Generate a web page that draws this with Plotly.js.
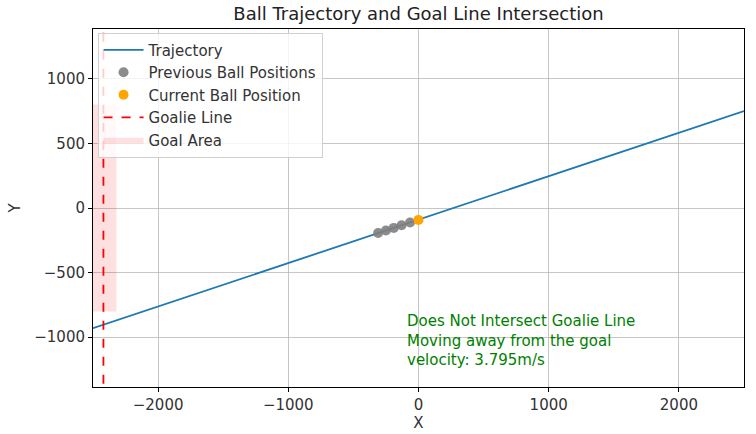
<!DOCTYPE html>
<html>
<head>
<meta charset="utf-8">
<script src="https://cdn.plot.ly/plotly-3.0.1.min.js"></script>
<style>
  body { margin: 0; background: #fff; }
  #chart { width: 756px; height: 434px; }
</style>
</head>
<body>
<div id="chart"></div>
<script>
// values
var trajX = [-2500, 2500];
var trajY = [-930, 750];
var prevX = [-310, -250, -190, -130, -65];
var prevY = [-194, -174, -154, -134, -112];
var curX = [0];
var curY = [-92];
var goalieX = -2420;
var goalAreaX = [-2530, -2320, -2320, -2530, -2530];
var goalAreaY = [-800, -800, 800, 800, -800];
var infoLines = ['Does Not Intersect Goalie Line', 'Moving away from the goal', 'velocity: 3.795m/s'];

var chart = document.getElementById('chart');
var font = 'DejaVu Sans, sans-serif';

var traces = [
  {
    x: goalAreaX, y: goalAreaY, name: 'Goal Area', mode: 'lines',
    fill: 'toself', fillcolor: 'rgba(255,0,0,0.12)', line: {width: 0},
    legendrank: 5, hoverinfo: 'skip'
  },
  {
    x: trajX, y: trajY, name: 'Trajectory', mode: 'lines',
    line: {color: '#1f77b4', width: 1.8}, legendrank: 1
  },
  {
    x: prevX, y: prevY, name: 'Previous Ball Positions', mode: 'markers',
    marker: {color: 'rgba(128,128,128,0.9)', size: 10}, legendrank: 2
  },
  {
    x: curX, y: curY, name: 'Current Ball Position', mode: 'markers',
    marker: {color: 'orange', size: 10}, legendrank: 3
  },
  {
    x: [goalieX, goalieX], y: [-1500, 1500], name: 'Goalie Line', mode: 'lines',
    line: {color: 'red', width: 1.8, dash: 'dash'}, legendrank: 4
  }
];

var axisBase = {
  showgrid: true, gridcolor: '#b8b8b8', gridwidth: 0.8,
  zeroline: false, showline: true, mirror: true, linecolor: '#000', linewidth: 1,
  ticks: 'outside', ticklen: 4, tickcolor: '#000',
  tickfont: {family: font, size: 15, color: '#333'}
};

var layout = {
  width: 756, height: 434,
  margin: {l: 93, r: 12, t: 29, b: 47},
  paper_bgcolor: '#fff', plot_bgcolor: '#fff',
  font: {family: font, color: '#333'},
  title: {text: 'Ball Trajectory and Goal Line Intersection', font: {family: font, size: 18, color: '#222'}, x: 0.5, xref: 'paper', xanchor: 'center', y: 0.968, yanchor: 'middle'},
  xaxis: Object.assign({}, axisBase, {
    range: [-2500, 2500], tickvals: [-2000, -1000, 0, 1000, 2000],
    ticktext: ['\u22122000', '\u22121000', '0', '1000', '2000'],
    title: {text: 'X', font: {family: font, size: 15, color: '#333'}, standoff: 2}
  }),
  yaxis: Object.assign({}, axisBase, {
    range: [-1385, 1385], tickvals: [-1000, -500, 0, 500, 1000],
    ticktext: ['\u22121000', '\u2212500', '0', '500', '1000'],
    title: {text: 'Y', font: {family: font, size: 15, color: '#333'}, standoff: 10}
  }),
  showlegend: true,
  legend: {
    x: 0.007, y: 0.99, xanchor: 'left', yanchor: 'top',
    bgcolor: 'rgba(255,255,255,0.8)', bordercolor: '#d0d0d0', borderwidth: 1,
    font: {family: font, size: 15, color: '#333'}, tracegroupgap: 0, itemwidth: 40
  },
  annotations: [{
    x: -100, y: -790, xref: 'x', yref: 'y', xanchor: 'left', yanchor: 'top',
    text: infoLines.join('<br>'), showarrow: false, align: 'left',
    font: {family: font, size: 15, color: 'green'}
  }]
};

Plotly.newPlot(chart, traces, layout, {displayModeBar: false, staticPlot: true});
</script>
</body>
</html>
